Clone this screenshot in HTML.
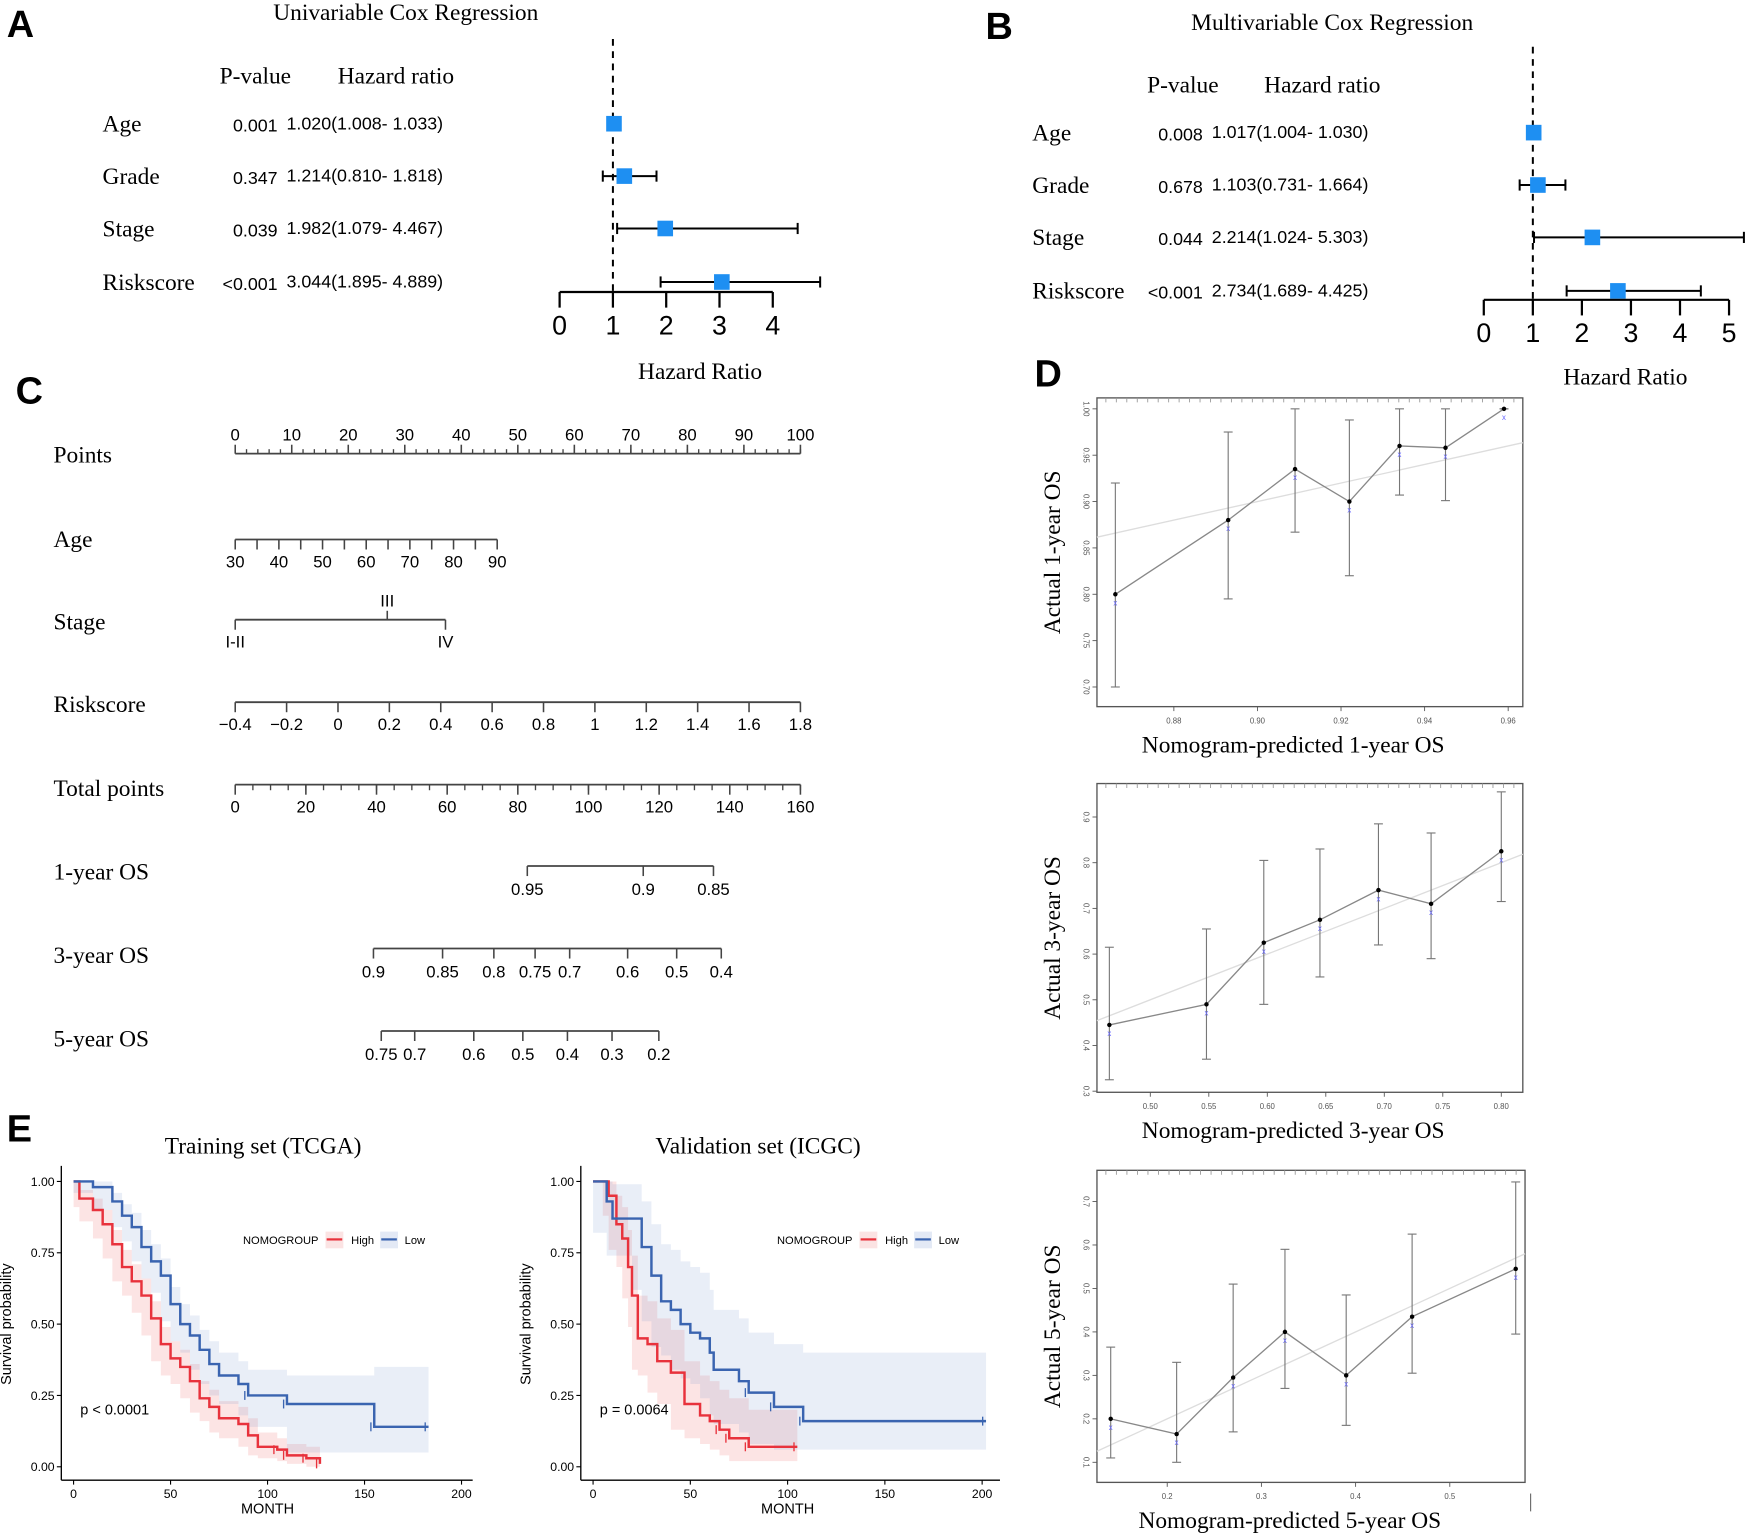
<!DOCTYPE html>
<html><head><meta charset="utf-8"><style>
html,body{margin:0;padding:0;background:#fff;}
svg{display:block;}
.serif{font-family:"Liberation Serif",serif;}
.sans{font-family:"Liberation Sans",sans-serif;}
</style></head><body>
<svg id="fig" xmlns="http://www.w3.org/2000/svg" width="1748" height="1537" viewBox="0 0 1568 1379" preserveAspectRatio="none">
<rect x="0" y="0" width="1568" height="1379" fill="#fff"/>
</svg>
<script>
// ---------- Data: Panel A (univariable) ----------
const uniVars = ["Age","Grade","Stage","Riskscore"];
const uniP = ["0.001","0.347","0.039","<0.001"];
const uniHR = [1.020,1.214,1.982,3.044];
const uniLo = [1.008,0.810,1.079,1.895];
const uniHi = [1.033,1.818,4.467,4.889];
const uniTicks = [0,1,2,3,4];
// ---------- Data: Panel B (multivariable) ----------
const mulVars = ["Age","Grade","Stage","Riskscore"];
const mulP = ["0.008","0.678","0.044","<0.001"];
const mulHR = [1.017,1.103,2.214,2.734];
const mulLo = [1.004,0.731,1.024,1.689];
const mulHi = [1.030,1.664,5.303,4.425];
const mulTicks = [0,1,2,3,4,5];
// ---------- Data: Panel D calibration ----------
const cal1Pred = [0.866,0.893,0.909,0.922,0.934,0.945,0.959];
const cal1Obs = [0.80,0.88,0.935,0.90,0.96,0.958,1.00];
const cal1Lo = [0.70,0.795,0.867,0.82,0.907,0.901,1.0];
const cal1Hi = [0.92,0.975,1.0,0.988,1.0,1.0,1.0];
const cal1XT = [0.88,0.90,0.92,0.94,0.96];
const cal1YT = [0.70,0.75,0.80,0.85,0.90,0.95,1.00];
const cal3Pred = [0.465,0.548,0.597,0.645,0.695,0.74,0.80];
const cal3Obs = [0.445,0.49,0.625,0.675,0.74,0.71,0.825];
const cal3Lo = [0.325,0.37,0.49,0.55,0.62,0.59,0.715];
const cal3Hi = [0.615,0.655,0.805,0.83,0.885,0.865,0.955];
const cal3XT = [0.50,0.55,0.60,0.65,0.70,0.75,0.80];
const cal3YT = [0.3,0.4,0.5,0.6,0.7,0.8,0.9];
const cal5Pred = [0.14,0.21,0.27,0.325,0.39,0.46,0.57];
const cal5Obs = [0.20,0.165,0.295,0.40,0.30,0.435,0.545];
const cal5Lo = [0.11,0.10,0.17,0.27,0.185,0.305,0.395];
const cal5Hi = [0.365,0.33,0.51,0.59,0.485,0.625,0.745];
const cal5XT = [0.2,0.3,0.4,0.5];
const cal5YT = [0.1,0.2,0.3,0.4,0.5,0.6,0.7];
// ---------- Data: Panel E Kaplan-Meier ----------
const trHighT = [0,3,10,15,20,25,30,35,40,45,50,55,60,65,70,75,85,90,95,105,110,120,127];
const trHighS = [1,0.94,0.90,0.85,0.78,0.70,0.65,0.60,0.52,0.43,0.38,0.35,0.30,0.24,0.21,0.17,0.15,0.11,0.07,0.06,0.04,0.03,0.01];
const trHighL = [1,0.91,0.86,0.80,0.73,0.65,0.60,0.54,0.46,0.37,0.32,0.29,0.24,0.19,0.16,0.12,0.10,0.07,0.04,0.03,0.02,0.01,0.0];
const trHighU = [1,0.97,0.94,0.90,0.83,0.76,0.71,0.66,0.58,0.49,0.44,0.41,0.36,0.30,0.27,0.23,0.21,0.17,0.12,0.10,0.08,0.07,0.07];
const trLowT = [0,10,20,25,30,35,40,45,50,55,60,65,70,75,85,90,110,155,183];
const trLowS = [1,0.98,0.93,0.88,0.84,0.77,0.72,0.67,0.57,0.50,0.46,0.41,0.36,0.32,0.29,0.25,0.22,0.14,0.14];
const trLowL = [1,0.96,0.90,0.84,0.79,0.72,0.66,0.61,0.51,0.44,0.40,0.34,0.29,0.25,0.22,0.18,0.14,0.05,0.05];
const trLowU = [1,1.0,0.96,0.92,0.89,0.83,0.78,0.73,0.63,0.57,0.53,0.48,0.44,0.40,0.37,0.34,0.32,0.35,0.35];
const vaHighT = [0,5,8,12,15,18,20,23,28,33,40,47,55,60,65,70,80,105];
const vaHighS = [1,1,0.95,0.85,0.80,0.70,0.60,0.45,0.43,0.37,0.33,0.22,0.18,0.16,0.13,0.10,0.07,0.07];
const vaHighL = [1,1,0.88,0.76,0.70,0.59,0.49,0.34,0.32,0.26,0.22,0.13,0.10,0.08,0.06,0.04,0.02,0.02];
const vaHighU = [1,1,1.0,0.95,0.91,0.83,0.74,0.60,0.58,0.52,0.48,0.37,0.32,0.30,0.27,0.24,0.20,0.20];
const vaLowT = [0,7,10,20,25,30,35,40,45,50,55,60,62,75,80,93,108,202];
const vaLowS = [1,0.93,0.87,0.87,0.77,0.67,0.58,0.55,0.50,0.47,0.45,0.40,0.34,0.30,0.26,0.21,0.16,0.16];
const vaLowL = [1,0.82,0.74,0.74,0.62,0.51,0.42,0.39,0.34,0.31,0.29,0.24,0.18,0.15,0.12,0.08,0.06,0.06];
const vaLowU = [1,1.0,0.99,0.99,0.93,0.85,0.78,0.76,0.72,0.70,0.68,0.62,0.55,0.52,0.47,0.43,0.40,0.40];
const kmYTicks = [0,0.25,0.5,0.75,1.0];
const kmYLabels = ["0.00","0.25","0.50","0.75","1.00"];
const kmXTicks = [0,50,100,150,200];

const NS = "http://www.w3.org/2000/svg";
const fig = document.getElementById("fig");
function el(tag, attrs, name, parent) {
  const e = document.createElementNS(NS, tag);
  for (const k in attrs) e.setAttribute(k, attrs[k]);
  
  
  (parent || fig).appendChild(e);
  return e;
}
function txt(x, y, s, size, cls, name, anchor, extra) {
  const a = {x:x, y:y, "font-size":size, class:cls, "text-anchor":anchor||"start", fill:"#000"};
  if (extra) for (const k in extra) a[k] = extra[k];
  const t = el("text", a, name);
  t.textContent = s;
  return t;
}
function line(x1,y1,x2,y2,name,stroke,w,extra){
  const a={x1:x1,y1:y1,x2:x2,y2:y2,stroke:stroke||"#000","stroke-width":w||1.5};
  if(extra) for(const k in extra) a[k]=extra[k];
  return el("line",a,name);
}

txt(6,33,"A",34,"sans","panel-label-a","start",{"font-weight":"bold"});
txt(884,35,"B",34,"sans","panel-label-b","start",{"font-weight":"bold"});
txt(14,362,"C",34,"sans","panel-label-c","start",{"font-weight":"bold"});
txt(928,347,"D",34,"sans","panel-label-d","start",{"font-weight":"bold"});
txt(6,1024,"E",34,"sans","panel-label-e","start",{"font-weight":"bold"});

function forest(o){
  const x = v => o.x0 + v*o.unit;
  txt(o.titleX,o.titleY,o.title,21,"serif",o.key+"-title","middle");
  txt(o.pX,o.hY,"P-value",21,"serif",o.key+"-pvalue-header","start");
  txt(o.hrX,o.hY,"Hazard ratio",21,"serif",o.key+"-hr-header","start");
  line(x(1),o.dashTop,x(1),o.axisY,o.key+"-reference-line","#000",1.8,{"stroke-dasharray":"6,5"});
  o.vars.forEach((v,i)=>{
    const y=o.rows[i];
    txt(o.labX,y+7,v,21,"serif",o.key+"-label-"+v.toLowerCase(),"start");
    txt(o.pEnd,y+7,o.p[i],16,"sans",o.key+"-pvalue-"+v.toLowerCase(),"end");
    txt(o.pEnd+8,y+5,o.hr[i].toFixed(3)+"("+o.lo[i].toFixed(3)+"- "+o.hi[i].toFixed(3)+")",16,"sans",o.key+"-hr-text-"+v.toLowerCase(),"start");
    const lx=x(o.lo[i]), hx=Math.min(x(o.hi[i]),o.clip);
    line(lx,y,hx,y,o.key+"-ci-"+v.toLowerCase(),"#000",1.8);
    line(lx,y-5,lx,y+5,o.key+"-ci-cap-low","#000",1.8);
    if(x(o.hi[i])<=o.clip) line(hx,y-5,hx,y+5,o.key+"-ci-cap-high","#000",1.8);
    el("rect",{x:x(o.hr[i])-7,y:y-7,width:14,height:14,fill:"#1e8ff2"},o.key+"-hr-box-"+v.toLowerCase());
  });
  line(x(o.ticks[0]),o.axisY,x(o.ticks[o.ticks.length-1]),o.axisY,o.key+"-x-axis","#000",2);
  o.ticks.forEach(t=>{
    line(x(t),o.axisY,x(t),o.axisY+14,o.key+"-x-tick","#000",2);
    txt(x(t),o.axisY+38,String(t),24,"sans",o.key+"-x-tick-label","middle");
  });
  txt(o.xtX,o.xtY,"Hazard Ratio",21,"serif",o.key+"-x-axis-title","middle");
}
forest({key:"uni",vars:uniVars,p:uniP,hr:uniHR,lo:uniLo,hi:uniHi,ticks:uniTicks,x0:502,unit:47.8,
  rows:[111,158,205,253],axisY:262,dashTop:35,labX:92,pEnd:249,pX:197,hrX:303,hY:75,
  title:"Univariable Cox Regression",titleX:364,titleY:18,xtX:628,xtY:340,clip:2000});
forest({key:"multi",vars:mulVars,p:mulP,hr:mulHR,lo:mulLo,hi:mulHi,ticks:mulTicks,x0:1331,unit:44,
  rows:[119,166,213,261],axisY:269,dashTop:42,labX:926,pEnd:1079,pX:1029,hrX:1134,hY:83,
  title:"Multivariable Cox Regression",titleX:1195,titleY:27,xtX:1458,xtY:345,clip:1566});

const nomoRows = ["Points","Age","Stage","Riskscore","Total points","1-year OS","3-year OS","5-year OS"];
const nomoRowY = [408,484,558,632,707,782,857,932];
nomoRows.forEach((r,i)=>txt(48,nomoRowY[i]+7,r,21,"serif","nomogram-label-"+r.toLowerCase().replace(/ /g,"-"),"start"));
function scale(name,y,vals,labels,x0,x1,v0,v1,opts){
  const X = v => x0 + (v-v0)/(v1-v0)*(x1-x0);
  line(X(vals[0]),y,X(vals[vals.length-1]),y,name+"-axis","#444",1.6);
  if(opts.minor) opts.minor.forEach(m=>line(X(m),y,X(m),y+(opts.up?-4:5),name+"-minor-tick","#444",1.2));
  vals.forEach((v,i)=>{
    const up = opts.upSet ? opts.upSet[i] : opts.up;
    line(X(v),y,X(v),y+(up?-8:9),name+"-tick","#444",1.4);
    if(labels[i]!=="") txt(X(v),up?y-12:y+25,labels[i],15,"sans",name+"-tick-label","middle");
  });
}
const ptsVals=[0,10,20,30,40,50,60,70,80,90,100];
const ptsMinor=[]; for(let k=0;k<=100;k+=2) ptsMinor.push(k);
scale("points",407,ptsVals,ptsVals.map(String),211,718,0,100,{up:true,minor:ptsMinor});
const ageVals=[30,35,40,45,50,55,60,65,70,75,80,85,90];
scale("age",484,ageVals,ageVals.map(v=>v%10===0?String(v):""),211,446,30,90,{up:false});
const stagePts=[0,26.9,37.2];
scale("stage",556,stagePts,["I-II","III","IV"],211,718,0,100,{upSet:[false,true,false]});
const rsVals=[-0.4,-0.2,0,0.2,0.4,0.6,0.8,1,1.2,1.4,1.6,1.8];
scale("riskscore",630,rsVals,rsVals.map(v=>v<0?"\u2212"+Math.abs(v):String(v)),211,718,-0.4,1.8,{up:false});
const totVals=[0,20,40,60,80,100,120,140,160];
const totMinor=[]; for(let k=0;k<=160;k+=5) totMinor.push(k);
scale("total-points",704,totVals,totVals.map(String),211,718,0,160,{up:false,minor:totMinor});
const os1Vals=[0.95,0.9,0.85], os1Pos=[473,577,640];
const os3Vals=[0.9,0.85,0.8,0.75,0.7,0.6,0.5,0.4], os3Pos=[335,397,443,480,511,563,607,647];
const os5Vals=[0.75,0.7,0.6,0.5,0.4,0.3,0.2], os5Pos=[342,372,425,469,509,549,591];
function osScale(name,y,vals,pos){
  line(pos[0],y,pos[pos.length-1],y,name+"-axis","#444",1.6);
  vals.forEach((v,i)=>{ line(pos[i],y,pos[i],y+9,name+"-tick","#444",1.4);
    txt(pos[i],y+26,String(v),15,"sans",name+"-tick-label","middle"); });
}
osScale("os-1year",777,os1Vals,os1Pos);
osScale("os-3year",851,os3Vals,os3Pos);
osScale("os-5year",925,os5Vals,os5Pos);

function calib(o){
  const X = v => o.bx0 + (v-o.xv0)/(o.xv1-o.xv0)*(o.bx1-o.bx0);
  const Y = v => o.by1 - (v-o.yv0)/(o.yv1-o.yv0)*(o.by1-o.by0);
  el("rect",{x:o.bx0,y:o.by0,width:o.bx1-o.bx0,height:o.by1-o.by0,fill:"none",stroke:"#555","stroke-width":1.2},o.key+"-plot-frame");
  for(let k=0;k<40;k++){ const xx=o.bx0+8+k*(o.bx1-o.bx0-16)/39; line(xx,o.by0,xx,o.by0+4,o.key+"-rug-tick","#999",0.8); }
  const lx0=Math.max(o.xv0,o.yv0), lx1=Math.min(o.xv1,o.yv1);
  line(X(lx0),Y(lx0),X(lx1),Y(lx1),o.key+"-ideal-line","#ddd",1.2);
  o.xt.forEach(t=>{ line(X(t),o.by1,X(t),o.by1+4,o.key+"-x-tick","#555",0.8);
    txt(X(t),o.by1+15,o.xlabF(t),7,"sans",o.key+"-x-tick-label","middle",{fill:"#555"}); });
  o.yt.forEach(t=>{ line(o.bx0-4,Y(t),o.bx0,Y(t),o.key+"-y-tick","#555",0.8);
    txt(o.bx0-12,Y(t),o.ylabF(t),7,"sans",o.key+"-y-tick-label","middle",{fill:"#555",transform:"rotate(90 "+(o.bx0-12)+" "+Y(t)+")"}); });
  o.pred.forEach((p,i)=>{
    line(X(p),Y(o.lo[i]),X(p),Y(o.hi[i]),o.key+"-error-bar","#777",1);
    line(X(p)-4,Y(o.lo[i]),X(p)+4,Y(o.lo[i]),o.key+"-error-cap","#777",1);
    line(X(p)-4,Y(o.hi[i]),X(p)+4,Y(o.hi[i]),o.key+"-error-cap","#777",1);
  });
  el("polyline",{points:o.pred.map((p,i)=>X(p)+","+Y(o.obs[i])).join(" "),fill:"none",stroke:"#888","stroke-width":1.2},o.key+"-calibration-line");
  o.pred.forEach((p,i)=>{
    txt(X(p),Y(o.obs[i])+10,"x",7,"sans",o.key+"-bias-mark","middle",{fill:"#66f"});
    el("circle",{cx:X(p),cy:Y(o.obs[i]),r:2,fill:"#000"},o.key+"-observed-point");
  });
  const cy=(o.by0+o.by1)/2;
  txt(951,cy,o.ytitle,21,"serif",o.key+"-y-axis-title","middle",{transform:"rotate(-90 951 "+cy+")"});
  txt(o.xtX,o.xtY,o.xtitle,21,"serif",o.key+"-x-axis-title","middle");
}
calib({key:"cal-1year",bx0:984,bx1:1366,by0:357,by1:634,xv0:0.8616,xv1:0.9635,yv0:0.6788,yv1:1.0118,
  pred:cal1Pred,obs:cal1Obs,lo:cal1Lo,hi:cal1Hi,xt:cal1XT,yt:cal1YT,ylabF:t=>t.toFixed(2),xlabF:t=>t.toFixed(2),
  ytitle:"Actual 1-year  OS",xtitle:"Nomogram-predicted 1-year  OS",xtX:1160,xtY:675});
calib({key:"cal-3year",bx0:984,bx1:1366,by0:703,by1:980,xv0:0.4544,xv1:0.8184,yv0:0.2976,yv1:0.9732,
  pred:cal3Pred,obs:cal3Obs,lo:cal3Lo,hi:cal3Hi,xt:cal3XT,yt:cal3YT,ylabF:t=>t.toFixed(1),xlabF:t=>t.toFixed(2),
  ytitle:"Actual 3-year  OS",xtitle:"Nomogram-predicted 3-year  OS",xtX:1160,xtY:1021});
calib({key:"cal-5year",bx0:984,bx1:1368,by0:1050,by1:1330,xv0:0.1254,xv1:0.5799,yv0:0.0538,yv1:0.7718,
  pred:cal5Pred,obs:cal5Obs,lo:cal5Lo,hi:cal5Hi,xt:cal5XT,yt:cal5YT,ylabF:t=>t.toFixed(1),xlabF:t=>t.toFixed(1),
  ytitle:"Actual 5-year  OS",xtitle:"Nomogram-predicted 5-year  OS",xtX:1157,xtY:1371});
line(1373,1340,1373,1356,"stray-mark","#666",1);

function stepPath(T,S,X,Y){
  let d="M"+X(T[0])+","+Y(S[0]);
  for(let i=1;i<T.length;i++){ d+=" H"+X(T[i])+" V"+Y(S[i]); }
  return d;
}
function bandPath(T,L,U,X,Y){
  let up="M"+X(T[0])+","+Y(U[0]);
  for(let i=1;i<T.length;i++) up+=" H"+X(T[i])+" V"+Y(U[i]);
  let lo="";
  for(let i=T.length-1;i>=1;i--) lo+=" V"+Y(L[i])+" H"+X(T[i-1]);
  return up+lo+" V"+Y(L[0])+" Z";
}
function km(o){
  const X = t => o.x0 + t*o.ux;
  const Y = s => 1316 - s*256;
  txt(o.titleX,1035,o.title,21,"serif",o.key+"-title","middle");
  o.series.forEach(s=>{
    el("path",{d:bandPath(s.T,s.L,s.U,X,Y),fill:s.band,stroke:"none"},o.key+"-ci-band-"+s.name);
  });
  o.series.forEach(s=>{
    el("path",{d:stepPath(s.T,s.S,X,Y),fill:"none",stroke:s.col,"stroke-width":2.2},o.key+"-survival-curve-"+s.name);
    const n=s.T.length-1;
    for(let k=Math.max(1,n-3);k<=n;k++){
      const cx=X(s.T[k])-3;
      line(cx,Y(s.S[k])-4,cx,Y(s.S[k])+4,o.key+"-censor-mark-"+s.name,s.col,1.2);
    }
  });
  line(o.ax,1046,o.ax,1328,o.key+"-y-axis","#000",1.2);
  line(o.ax,1328,o.axEnd,1328,o.key+"-x-axis","#000",1.2);
  kmYTicks.forEach((t,i)=>{ line(o.ax-4,Y(t),o.ax,Y(t),o.key+"-y-tick","#000",1);
    txt(o.ax-6,Y(t)+4,kmYLabels[i],11,"sans",o.key+"-y-tick-label","end"); });
  kmXTicks.forEach(t=>{ line(X(t),1328,X(t),1332,o.key+"-x-tick","#000",1);
    txt(X(t),1344,String(t),11,"sans",o.key+"-x-tick-label","middle"); });
  txt(X(100),1358,"MONTH",13,"sans",o.key+"-x-axis-title","middle");
  const cy=1188, lx=o.ax-45;
  txt(lx,cy,"Survival probability",13,"sans",o.key+"-y-axis-title","middle",{transform:"rotate(-90 "+lx+" "+cy+")"});
  txt(o.legX,1116,"NOMOGROUP",10,"sans",o.key+"-legend-title","start");
  el("rect",{x:o.legX+74,y:1105,width:16,height:15,fill:"#fbe3e3"},o.key+"-legend-key-high-bg");
  line(o.legX+75,1112,o.legX+89,1112,o.key+"-legend-key-high","#e8323c",2);
  txt(o.legX+97,1116,"High",10,"sans",o.key+"-legend-entry-high","start");
  el("rect",{x:o.legX+123,y:1105,width:16,height:15,fill:"#e3e9f5"},o.key+"-legend-key-low-bg");
  line(o.legX+124,1112,o.legX+138,1112,o.key+"-legend-key-low","#3a64b0",2);
  txt(o.legX+145,1116,"Low",10,"sans",o.key+"-legend-entry-low","start");
  txt(o.pX,1269,o.pText,13,"sans",o.key+"-p-value","start");
}
km({key:"km-training",title:"Training set (TCGA)",titleX:236,x0:66,ux:1.74,ax:55,axEnd:424,legX:218,pX:72,pText:"p < 0.0001",
  series:[{name:"high",T:trHighT,S:trHighS,L:trHighL,U:trHighU,col:"#e8323c",band:"rgba(240,120,120,0.2)"},
          {name:"low",T:trLowT,S:trLowS,L:trLowL,U:trLowU,col:"#3a64b0",band:"rgba(110,140,200,0.15)"}]});
km({key:"km-validation",title:"Validation set (ICGC)",titleX:680,x0:532,ux:1.745,ax:521,axEnd:897,legX:697,pX:538,pText:"p = 0.0064",
  series:[{name:"high",T:vaHighT,S:vaHighS,L:vaHighL,U:vaHighU,col:"#e8323c",band:"rgba(240,120,120,0.2)"},
          {name:"low",T:vaLowT,S:vaLowS,L:vaLowL,U:vaLowU,col:"#3a64b0",band:"rgba(110,140,200,0.15)"}]});
</script>
</body></html>
